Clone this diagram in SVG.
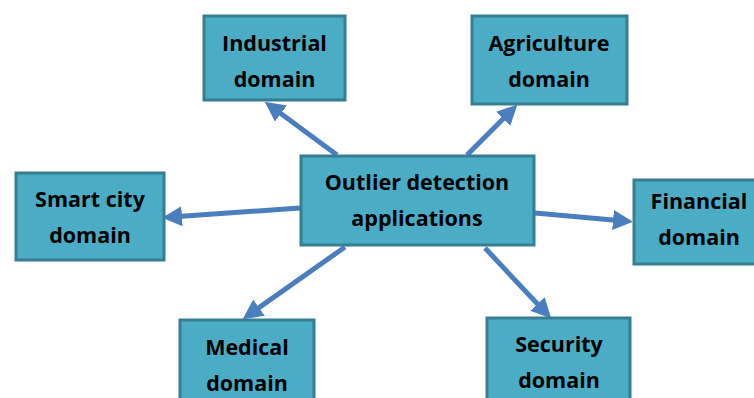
<svg xmlns="http://www.w3.org/2000/svg" width="754" height="398" viewBox="0 0 754 398">
<style>
.box{fill:#4BACC6;stroke:#367E92;stroke-width:3}
.t{font-family:"Open Sans","Liberation Sans",sans-serif;font-weight:bold;font-size:21.5px;fill:#000;text-anchor:middle}
.c{stroke:#4A7EBF;stroke-width:5;fill:none;marker-end:url(#ah)}
</style>
<defs>
<marker id="ah" markerWidth="4" markerHeight="4" refX="2.2" refY="2" orient="auto" markerUnits="strokeWidth">
<path d="M0,0 L4,2 L0,4 z" fill="#4A7EBF"/>
</marker>
</defs>
<g id="connectors">
<line class="c" x1="337" y1="155" x2="272" y2="107"/>
<line class="c" x1="467" y1="155" x2="511" y2="111"/>
<line class="c" x1="300" y1="208" x2="171" y2="217"/>
<line class="c" x1="535" y1="213" x2="624" y2="221"/>
<line class="c" x1="345" y1="247" x2="250" y2="314"/>
<line class="c" x1="485" y1="248" x2="545" y2="312"/>
</g>
<g id="industrial"><rect class="box" x="204" y="16" width="141" height="84"/><text class="t" x="274.5" y="51">Industrial</text><text class="t" x="274.5" y="87">domain</text></g>
<g id="agriculture"><rect class="box" x="472" y="16" width="155" height="88"/><text class="t" x="549" y="51">Agriculture</text><text class="t" x="549" y="87">domain</text></g>
<g id="center"><rect class="box" x="301" y="156" width="233" height="89"/><text class="t" x="417" y="190">Outlier detection</text><text class="t" x="417" y="226">applications</text></g>
<g id="smartcity"><rect class="box" x="16" y="173" width="148" height="87"/><text class="t" x="90" y="207">Smart city</text><text class="t" x="90" y="243">domain</text></g>
<g id="financial"><rect class="box" x="634" y="180" width="130" height="84"/><text class="t" x="699" y="209">Financial</text><text class="t" x="699" y="245">domain</text></g>
<g id="medical"><rect class="box" x="180" y="320" width="134" height="100"/><text class="t" x="247" y="355">Medical</text><text class="t" x="247" y="391">domain</text></g>
<g id="security"><rect class="box" x="487" y="318" width="143" height="100"/><text class="t" x="559" y="352">Security</text><text class="t" x="559" y="388">domain</text></g>
</svg>
